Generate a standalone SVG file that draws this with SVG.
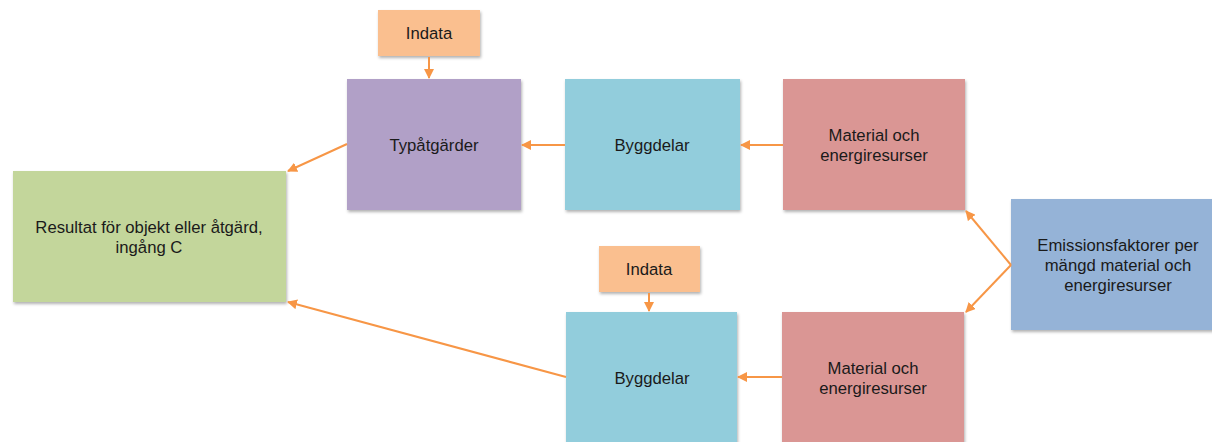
<svg xmlns="http://www.w3.org/2000/svg" width="1212" height="442" viewBox="0 0 1212 442">
<style>
text{font-family:"Liberation Sans",Arial,sans-serif;font-size:16.7px;fill:#1a1a1a;text-anchor:middle}
.c{stroke:#F79646;stroke-width:2;fill:none;marker-end:url(#ah)}
</style>
<defs>
<filter id="sh" x="-10%" y="-10%" width="120%" height="130%">
<feDropShadow dx="1" dy="2" stdDeviation="1.5" flood-color="#000" flood-opacity="0.3"/>
</filter>
<marker id="ah" markerWidth="10" markerHeight="10" refX="9" refY="5" orient="auto" markerUnits="userSpaceOnUse">
<path d="M0,0 L10,5 L0,10 Z" fill="#F79646"/>
</marker>
</defs>
<rect width="1212" height="442" fill="#fff"/>
<g id="indata1"><rect x="378" y="10" width="102" height="46" fill="#FABF8F" filter="url(#sh)"/><text x="429" y="39">Indata</text></g>
<g id="typatgarder"><rect x="347" y="79" width="174" height="131" fill="#B1A0C7" filter="url(#sh)"/><text x="434" y="151">Typåtgärder</text></g>
<g id="byggdelar1"><rect x="565" y="79" width="175" height="131" fill="#92CDDC" filter="url(#sh)"/><text x="652" y="151">Byggdelar</text></g>
<g id="material1"><rect x="783" y="79" width="182" height="131" fill="#DA9694" filter="url(#sh)"/><text x="874" y="141">Material och</text><text x="874" y="161">energiresurser</text></g>
<g id="emission"><rect x="1011" y="199" width="205" height="131" fill="#95B3D7" filter="url(#sh)"/><text x="1118" y="251">Emissionsfaktorer per</text><text x="1118" y="271">mängd material och</text><text x="1118" y="291">energiresurser</text></g>
<g id="resultat"><rect x="13" y="171" width="273" height="131" fill="#C3D69B" filter="url(#sh)"/><text x="149" y="233">Resultat för objekt eller åtgärd,</text><text x="149" y="253">ingång C</text></g>
<g id="indata2"><rect x="599" y="246" width="101" height="46" fill="#FABF8F" filter="url(#sh)"/><text x="649" y="275">Indata</text></g>
<g id="byggdelar2"><rect x="566" y="312" width="171" height="140" fill="#92CDDC" filter="url(#sh)"/><text x="652" y="384">Byggdelar</text></g>
<g id="material2"><rect x="782" y="312" width="182" height="140" fill="#DA9694" filter="url(#sh)"/><text x="873" y="374">Material och</text><text x="873" y="394">energiresurser</text></g>
<g id="connectors">
<line class="c" x1="429" y1="57" x2="429" y2="78"/>
<line class="c" x1="565" y1="145" x2="522" y2="145"/>
<line class="c" x1="783" y1="145" x2="741" y2="145"/>
<line class="c" x1="347" y1="144" x2="288" y2="171"/>
<line class="c" x1="649" y1="293" x2="649" y2="311"/>
<line class="c" x1="782" y1="377" x2="738" y2="377"/>
<line class="c" x1="566" y1="377" x2="288" y2="302"/>
<line class="c" x1="1011" y1="265" x2="966" y2="211"/>
<line class="c" x1="1011" y1="265" x2="966" y2="312"/>
</g>
</svg>
